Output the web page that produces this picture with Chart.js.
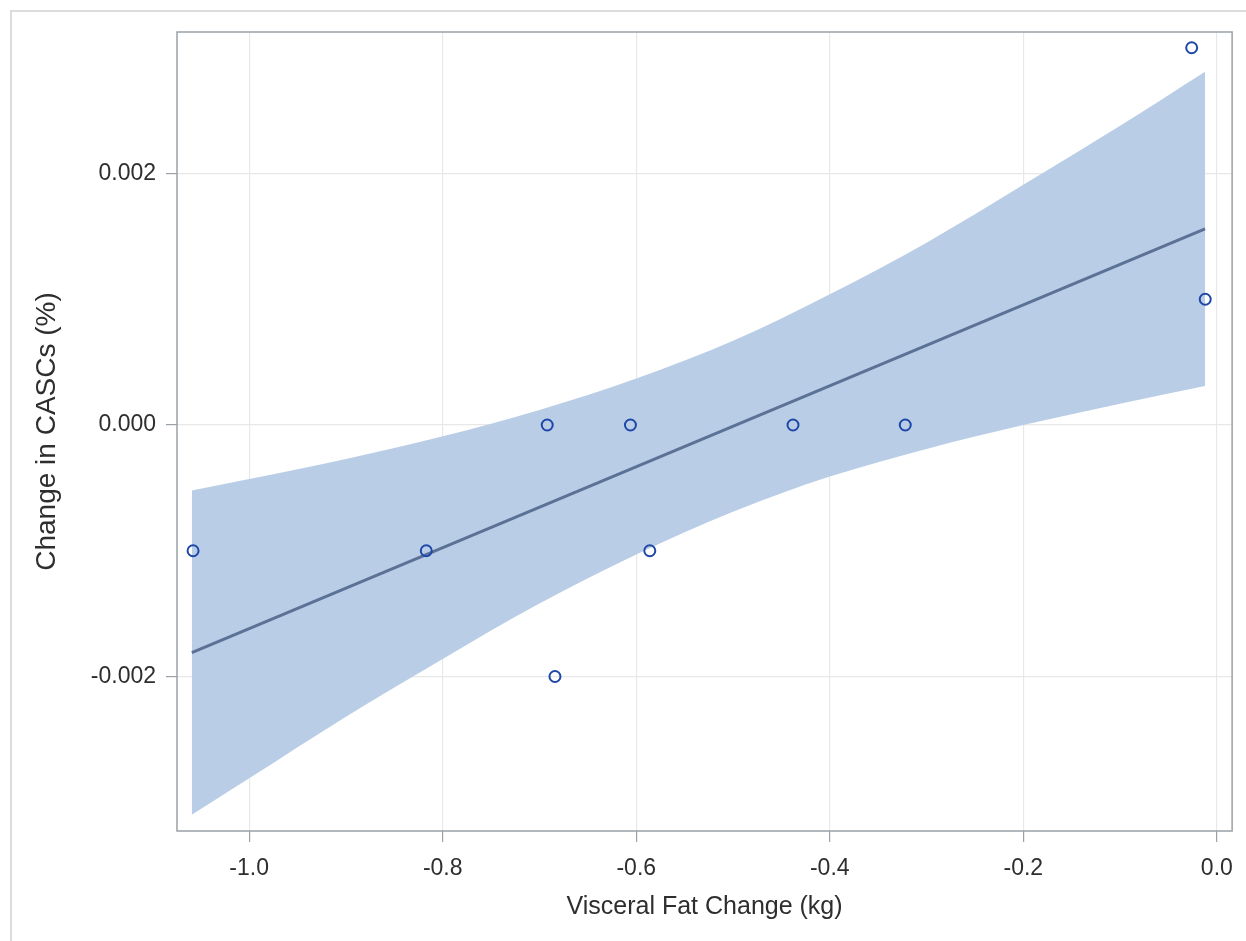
<!DOCTYPE html>
<html>
<head>
<meta charset="utf-8">
<script src="https://cdn.jsdelivr.net/npm/chart.js@4/dist/chart.umd.min.js"></script>
<style>
  html, body { margin: 0; padding: 0; background: #fff; }
  #frame { position: absolute; left: 10px; top: 10px; width: 1300px; height: 1000px;
           border-left: 2px solid #dcdcdc; border-top: 2px solid #dcdcdc; }
  #wrap { position: absolute; left: 0; top: 0; width: 1246px; height: 941px; }
</style>
</head>
<body>
<div id="frame"></div>
<div id="wrap"><canvas id="myChart"></canvas></div>
<script>
// Observed points
const visceralFat = [-1.058, -0.817, -0.692, -0.684, -0.606, -0.586, -0.438, -0.322, -0.026, -0.012];
const cascChange = [-0.001, -0.001, 0.000, -0.002, 0.000, -0.001, 0.000, 0.000, 0.003, 0.001];

// Fitted line (ends of the fit)
const fitX = [-1.0593, -0.0122];
const fitY = [-0.00181, 0.00156];

// Confidence band, read along x
const bandX = [-1.0593, -1.0, -0.9, -0.8, -0.7, -0.6, -0.5, -0.4, -0.3, -0.2, -0.1, -0.0122];
const bandUpper = [-0.00052, -0.00043, -0.00027, -0.00009, 0.00012, 0.00037, 0.00067, 0.00104, 0.00145, 0.00191, 0.00238, 0.00281];
const bandLower = [-0.00310, -0.00281, -0.00232, -0.00186, -0.00142, -0.00103, -0.00069, -0.00041, -0.00019, 0.00000, 0.00017, 0.00031];

// Tick labels
const xTicks = [-1.0, -0.8, -0.6, -0.4, -0.2, 0.0];
const yTicks = [-0.002, 0.000, 0.002];

const pair = (xs, ys) => xs.map((x, i) => ({x: x, y: ys[i]}));

// box around the plot area
const plotBox = {
  id: 'plotBox',
  afterDraw(chart) {
    const {ctx, chartArea: a} = chart;
    ctx.save();
    ctx.strokeStyle = '#9aa1a8';
    ctx.lineWidth = 1.5;
    ctx.strokeRect(a.left, a.top, a.right - a.left, a.bottom - a.top);
    ctx.restore();
  }
};

const font = "'Liberation Sans', Arial, sans-serif";
const ctx = document.getElementById('myChart').getContext('2d');

new Chart(ctx, {
  type: 'scatter',
  data: {
    datasets: [{
      label: 'Observed',
      data: pair(visceralFat, cascChange),
      pointStyle: 'circle',
      pointRadius: 5.5,
      pointBorderWidth: 2,
      borderColor: '#1f47a8',
      backgroundColor: 'rgba(0,0,0,0)'
    }, {
      label: 'Fit',
      data: pair(fitX, fitY),
      showLine: true,
      borderColor: '#5b7195',
      borderWidth: 3,
      pointRadius: 0
    }, {
      label: 'Upper',
      data: pair(bandX, bandUpper),
      showLine: true,
      cubicInterpolationMode: 'monotone',
      borderWidth: 0,
      borderColor: 'rgba(0,0,0,0)',
      backgroundColor: '#b9cee6',
      pointRadius: 0,
      fill: '+1'
    }, {
      label: 'Lower',
      data: pair(bandX, bandLower),
      showLine: true,
      cubicInterpolationMode: 'monotone',
      borderWidth: 0,
      borderColor: 'rgba(0,0,0,0)',
      pointRadius: 0,
      fill: false
    }]
  },
  options: {
    responsive: true,
    maintainAspectRatio: false,
    animation: false,
    layout: { padding: { top: 32, right: 12, left: 0, bottom: 0 } },
    plugins: { legend: { display: false }, tooltip: { enabled: false } },
    scales: {
      x: {
        type: 'linear',
        min: -1.0746,
        max: 0.0158,
        afterFit(scale) { scale.height = 110; },
        afterBuildTicks(scale) { scale.ticks = xTicks.map(v => ({value: v})); },
        border: { display: false },
        grid: { color: '#e8e8e8', lineWidth: 1.2, tickColor: '#9aa1a8', tickLength: 11 },
        ticks: {
          padding: 13,
          color: '#2e2e2e',
          font: { family: font, size: 23 },
          callback: v => Number(v).toFixed(1)
        },
        title: {
          display: true,
          text: 'Visceral Fat Change (kg)',
          color: '#2e2e2e',
          font: { family: font, size: 25 },
          padding: { top: 0, bottom: 19 }
        }
      },
      y: {
        type: 'linear',
        min: -0.0032286,
        max: 0.0031253,
        afterFit(scale) { scale.width = 177; },
        afterBuildTicks(scale) { scale.ticks = yTicks.map(v => ({value: v})); },
        border: { display: false },
        grid: { color: '#e8e8e8', lineWidth: 1.2, tickColor: '#9aa1a8', tickLength: 11 },
        ticks: {
          padding: 10,
          color: '#2e2e2e',
          font: { family: font, size: 23 },
          callback: v => Number(v).toFixed(3)
        },
        title: {
          display: true,
          text: 'Change in CASCs (%)',
          color: '#2e2e2e',
          font: { family: font, size: 28 },
          padding: { top: 30, bottom: 0 }
        }
      }
    }
  },
  plugins: [plotBox]
});
</script>
</body>
</html>
